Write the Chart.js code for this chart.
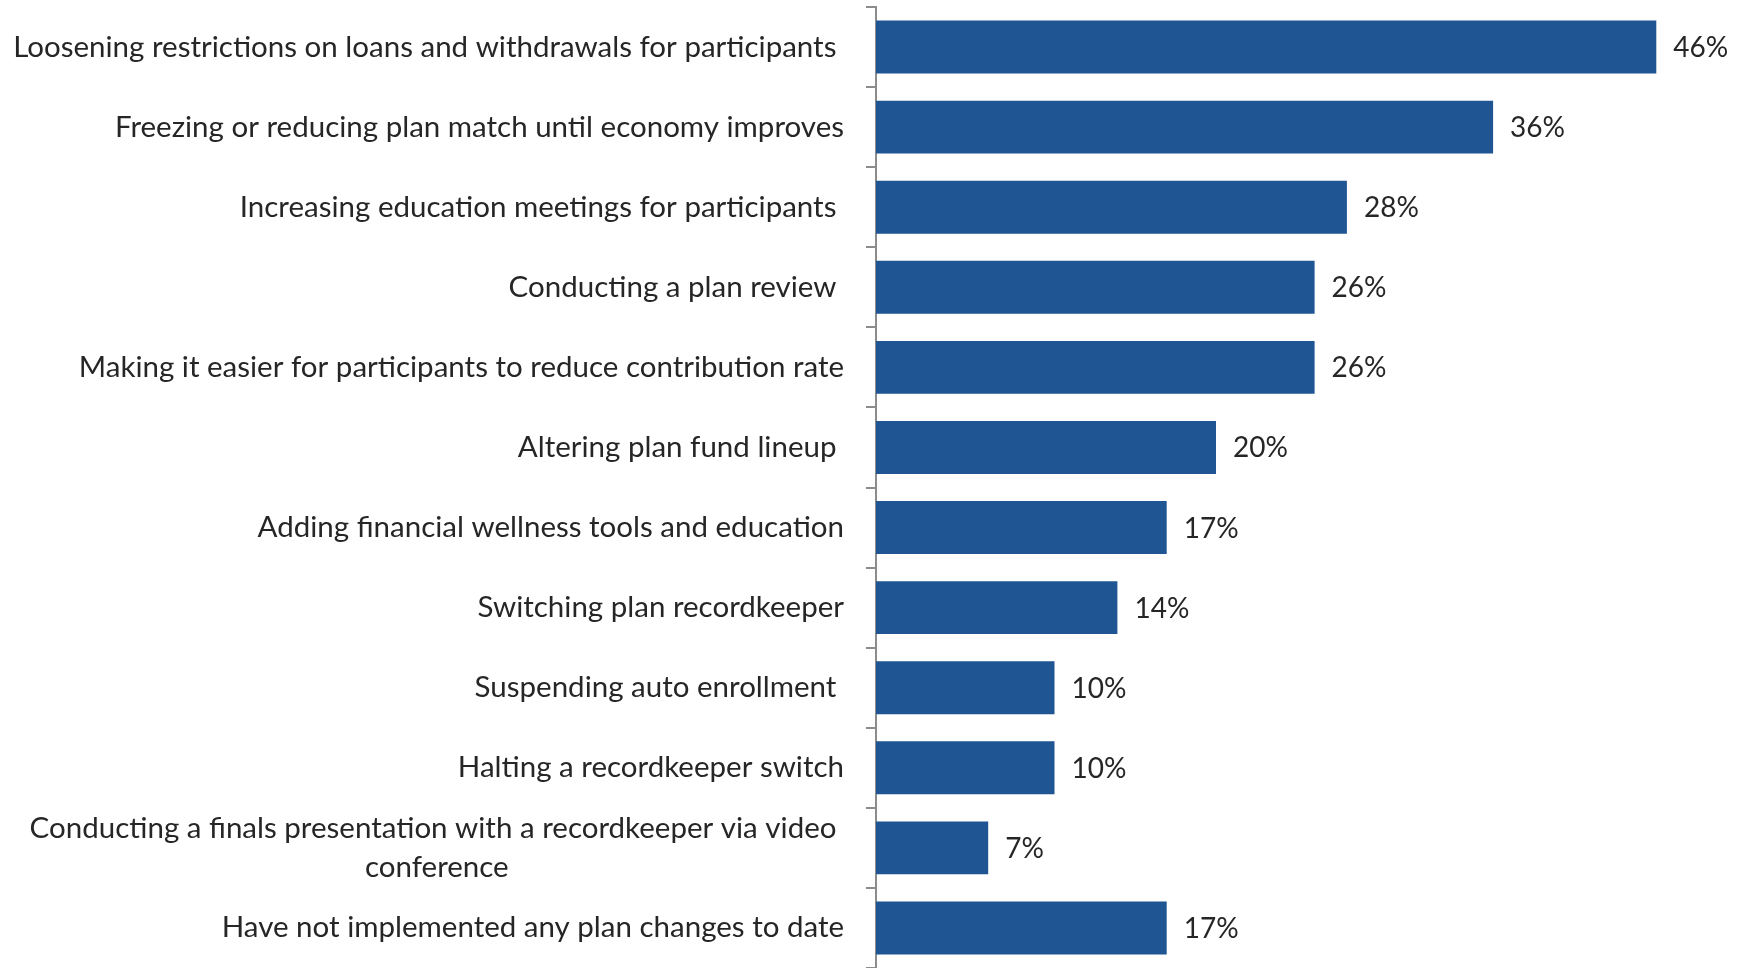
<!DOCTYPE html>
<html>
<head>
<meta charset="utf-8">
<script src="https://cdn.jsdelivr.net/npm/chart.js@4.4.1/dist/chart.umd.min.js"></script>
<style>
  html, body { margin: 0; padding: 0; background: #fff; }
  canvas { display: block; }
</style>
</head>
<body>
<canvas id="chart" width="1746" height="968"></canvas>
<script>
// category labels (one array entry per line), trailing spaces kept as in the source
const categories = [
  ['Loosening restrictions on loans and withdrawals for participants '],
  ['Freezing or reducing plan match until economy improves'],
  ['Increasing education meetings for participants '],
  ['Conducting a plan review '],
  ['Making it easier for participants to reduce contribution rate'],
  ['Altering plan fund lineup '],
  ['Adding financial wellness tools and education'],
  ['Switching plan recordkeeper'],
  ['Suspending auto enrollment '],
  ['Halting a recordkeeper switch'],
  ['Conducting a finals presentation with a recordkeeper via video ', 'conference'],
  ['Have not implemented any plan changes to date']
];
// bar lengths (labels are the rounded figures shown)
const values = [45.9, 36.3, 27.7, 25.8, 25.8, 20.0, 17.1, 14.2, 10.5, 10.5, 6.6, 17.1];
const valueLabels = ['46%', '36%', '28%', '26%', '26%', '20%', '17%', '14%', '10%', '10%', '7%', '17%'];

const textColor = '#262626';
const barColor = '#1F5592';
const axisColor = '#8c8c8c';
const labelFont = '29.5px Lato';
const valueFont = '28px Lato';

// draws the category names, right aligned block, lines centred within the block
const catLabels = {
  id: 'catLabels',
  afterDraw(chart) {
    const ctx = chart.ctx, y = chart.scales.y;
    const rightEdge = y.right - 32;
    const lineH = 39;
    ctx.save();
    ctx.font = labelFont;
    ctx.fillStyle = textColor;
    ctx.textAlign = 'center';
    ctx.textBaseline = 'middle';
    categories.forEach((lines, i) => {
      const w = Math.max(...lines.map(l => ctx.measureText(l).width));
      const cx = rightEdge - w / 2;
      const yc = y.getPixelForValue(i);
      lines.forEach((l, j) => ctx.fillText(l, cx, yc + (j - (lines.length - 1) / 2) * lineH));
    });
    ctx.restore();
  }
};

// percentage labels at the end of each bar
const valueTags = {
  id: 'valueTags',
  afterDatasetsDraw(chart) {
    const ctx = chart.ctx;
    const meta = chart.getDatasetMeta(0);
    ctx.save();
    ctx.font = valueFont;
    ctx.fillStyle = textColor;
    ctx.textAlign = 'left';
    ctx.textBaseline = 'middle';
    meta.data.forEach((bar, i) => ctx.fillText(valueLabels[i], bar.x + 17, bar.y + 1));
    ctx.restore();
  }
};

new Chart(document.getElementById('chart'), {
  type: 'bar',
  data: {
    labels: categories.map(c => c.join('').trim()),
    datasets: [{
      data: values,
      backgroundColor: barColor,
      borderWidth: 0,
      barPercentage: 0.66,
      categoryPercentage: 1
    }]
  },
  options: {
    indexAxis: 'y',
    responsive: false,
    animation: false,
    devicePixelRatio: 1,
    layout: { padding: { top: 7, right: 20, bottom: 0, left: 0 } },
    plugins: { legend: { display: false }, tooltip: { enabled: false } },
    scales: {
      x: { display: false, min: 0, max: 50 },
      y: {
        grid: { drawOnChartArea: false, drawTicks: true, tickLength: 10, color: axisColor, lineWidth: 2, offset: true },
        border: { color: axisColor, width: 2 },
        ticks: { display: false },
        afterFit(s) { s.width = 876; }
      }
    }
  },
  plugins: [catLabels, valueTags]
});
</script>
</body>
</html>
